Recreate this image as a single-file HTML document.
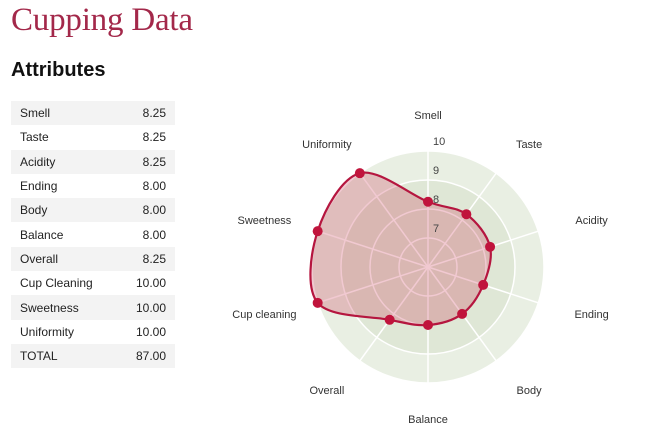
<!DOCTYPE html>
<html><head><meta charset="utf-8"><style>
body{margin:0;width:645px;height:442px;background:#fff;font-family:"Liberation Sans",sans-serif;position:relative;overflow:hidden}
h1{position:absolute;left:11px;top:2px;margin:0;font:33px "Liberation Serif",serif;color:#a3284a;letter-spacing:-0.2px}
h2{position:absolute;left:11px;top:59px;margin:0;font:bold 20px "Liberation Sans",sans-serif;color:#111}
table{position:absolute;left:11px;top:101px;width:164px;border-collapse:collapse;font-size:12px;color:#222}
td{height:24.3px;padding:0 9px}
td:last-child{text-align:right}
tr:nth-child(odd){background:#f3f3f3}
svg{position:absolute;left:0;top:0}
</style></head><body>
<h1>Cupping Data</h1>
<h2>Attributes</h2>
<table>
<tr><td>Smell</td><td>8.25</td></tr>
<tr><td>Taste</td><td>8.25</td></tr>
<tr><td>Acidity</td><td>8.25</td></tr>
<tr><td>Ending</td><td>8.00</td></tr>
<tr><td>Body</td><td>8.00</td></tr>
<tr><td>Balance</td><td>8.00</td></tr>
<tr><td>Overall</td><td>8.25</td></tr>
<tr><td>Cup Cleaning</td><td>10.00</td></tr>
<tr><td>Sweetness</td><td>10.00</td></tr>
<tr><td>Uniformity</td><td>10.00</td></tr>
<tr><td>TOTAL</td><td>87.00</td></tr>
</table>
<svg id="chart" width="645" height="442"></svg>
<script>
const categories=["Smell","Taste","Acidity","Ending","Body","Balance","Overall","Cup cleaning","Sweetness","Uniformity"];
const values=[8.25,8.25,8.25,8.0,8.0,8.0,8.25,10,10,10];
const ticks=[7,8,9,10];
const NS="http://www.w3.org/2000/svg",svg=document.getElementById("chart");
const cx=428,cy=267,rMin=6,rMax=10,R=116;
const r=v=>(v-rMin)/(rMax-rMin)*R;
const ang=i=>i*2*Math.PI/categories.length;
const pt=(i,v)=>[cx+r(v)*Math.sin(ang(i)),cy-r(v)*Math.cos(ang(i))];
function mk(t,a,p){const e=document.createElementNS(NS,t);for(const k in a)e.setAttribute(k,a[k]);(p||svg).appendChild(e);return e;}
const bands=[[10,"#e9efe3"],[9,"#dfe7d6"]];
bands.forEach(b=>{const c=mk("circle",{cx:cx,cy:cy,r:r(b[0]),fill:b[1]});

});
ticks.forEach(t=>{const c=mk("circle",{cx:cx,cy:cy,r:r(t),fill:"none",stroke:"#fff","stroke-width":1.5});

});
categories.forEach((c,i)=>{const [x,y]=[cx+140*Math.sin(ang(i)),cy-140*Math.cos(ang(i))];
const l=mk("line",{x1:cx,y1:cy,x2:x,y2:y,stroke:"#fff","stroke-width":1.5});


const t=mk("text",{x:cx+172*Math.sin(ang(i)),y:cy-152*Math.cos(ang(i))+4,"text-anchor":"middle","font-size":11,fill:"#333"});
t.textContent=c;

});
const P=values.map((v,i)=>pt(i,v)),n=P.length;
let d="M"+P[0].join(",");
for(let i=0;i<n;i++){const p0=P[(i-1+n)%n],p1=P[i],p2=P[(i+1)%n],p3=P[(i+2)%n];
d+=`C${p1[0]+(p2[0]-p0[0])/6},${p1[1]+(p2[1]-p0[1])/6} ${p2[0]-(p3[0]-p1[0])/6},${p2[1]-(p3[1]-p1[1])/6} ${p2[0]},${p2[1]}`;}
const area=mk("path",{d:d+"Z",fill:"rgba(200,40,70,0.25)",stroke:"#b5163f","stroke-width":2.2});


P.forEach(p=>{const c=mk("circle",{cx:p[0],cy:p[1],r:5,fill:"#c0143c"});

});
ticks.forEach(t=>{const e=mk("text",{x:cx+5,y:cy-r(t)-6,"font-size":11,fill:"#444"});
e.textContent=t;

});
</script>
</body></html>
